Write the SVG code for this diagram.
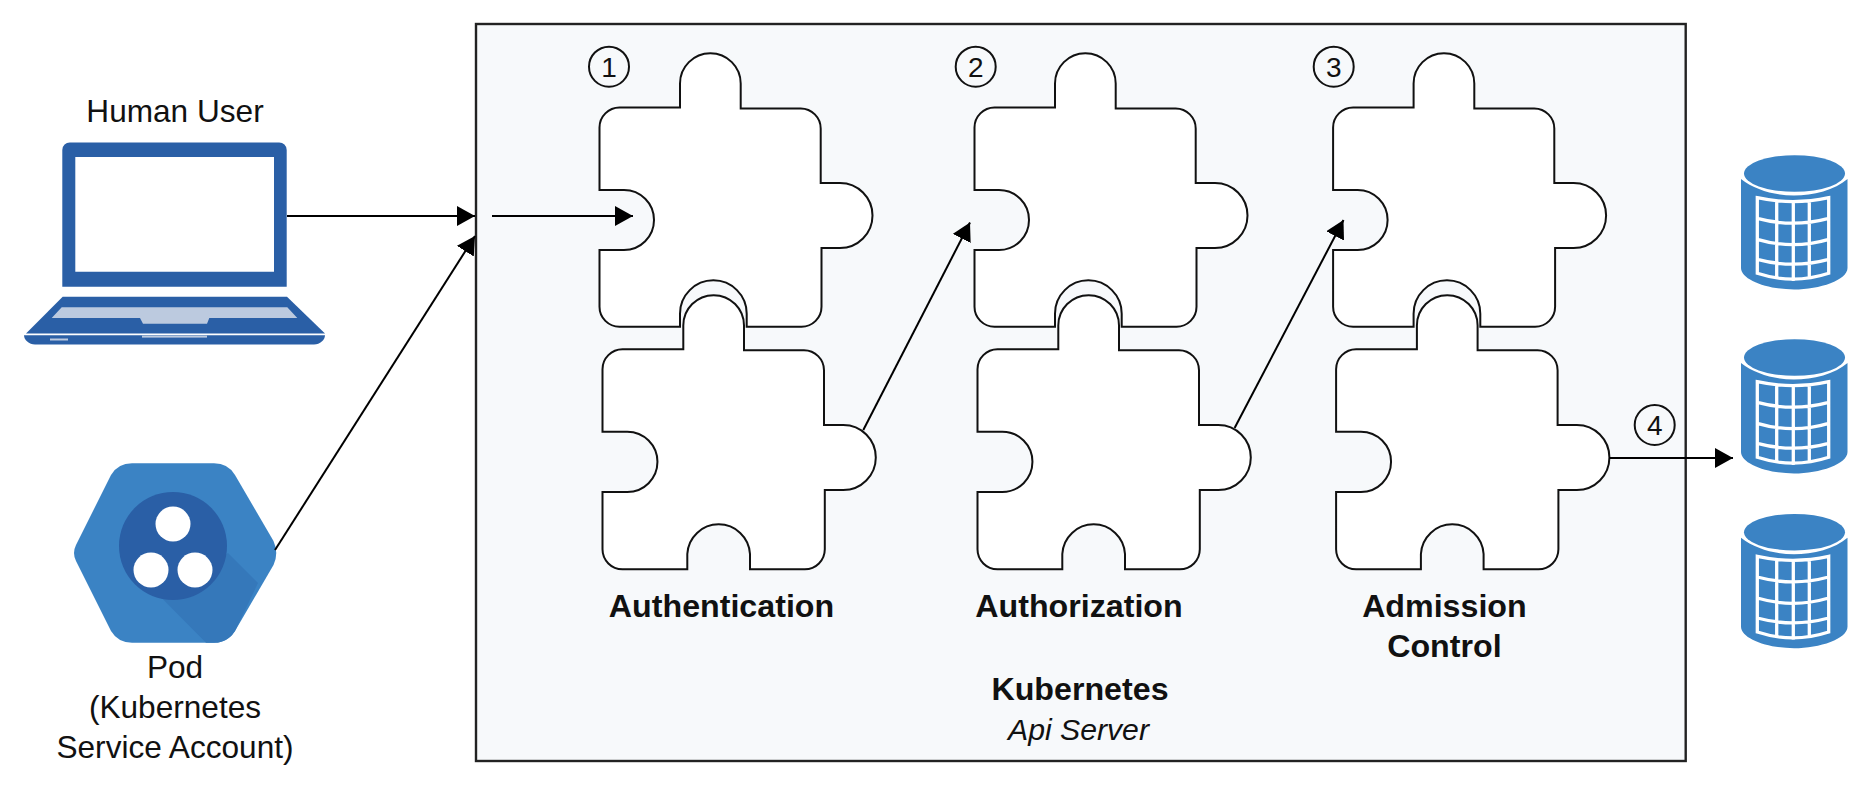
<svg xmlns="http://www.w3.org/2000/svg" width="1871" height="786" viewBox="0 0 1871 786">
<style>
text{font-family:"Liberation Sans",Arial,sans-serif;fill:#111;text-anchor:middle}
.t{font-size:31.6px}
.b{font-size:32.2px;font-weight:bold}
.i{font-size:30.2px;font-style:italic}
.d{font-size:28px}
.p{fill:#fff;stroke:#111;stroke-width:2}
.c{fill:none;stroke:#111;stroke-width:2}
.a{fill:none;stroke:#000;stroke-width:2;marker-end:url(#h)}
.blue{fill:#3b83c4}
.dark{fill:#2a5fa6}
.gl{fill:none;stroke:#fff;stroke-width:3.3}
</style>
<defs>
<marker id="h" markerUnits="userSpaceOnUse" markerWidth="18" markerHeight="20" viewBox="0 0 18 20" refX="18" refY="10" orient="auto"><path d="M0 0L18 10L0 20Z" fill="#000"/></marker>
<path id="upper" d="M619.5 107.5H680V83.6A30.3 30.3 0 0 1 740.7 83.6V108.5H800.7A20 20 0 0 1 820.7 128.5V183H840A32.5 32.5 0 0 1 840 248H821.5V306.7A20 20 0 0 1 801.5 326.7H746.7V313.7A33.3 33.3 0 0 0 680 313.7V326.7H619.5A20 20 0 0 1 599.5 306.7V250H624A30 30 0 0 0 624 190H599.5V127.5A20 20 0 0 1 619.5 107.5Z"/>
<path id="lower" d="M622.5 349.3H683.3V325.5A30.3 30.3 0 0 1 744 325.5V350.3H804A20 20 0 0 1 824 370.3V425H843.3A32.5 32.5 0 0 1 843.3 490H824.8V549.3A20 20 0 0 1 804.8 569.3H750V554A31.4 31.4 0 0 0 687.3 554V569.3H622.5A20 20 0 0 1 602.5 549.3V492H627.3A30 30 0 0 0 627.3 431.7H602.5V369.3A20 20 0 0 1 622.5 349.3Z"/>
<g id="db">
<ellipse class="blue" cx="1794.5" cy="173.5" rx="50.5" ry="18.3"/>
<path class="blue" d="M1741 179C1755 190 1775 195.5 1794 195.5S1835 190 1847.5 179V268C1847.5 280 1820 289.5 1794 289.5S1741 280 1741 268Z"/>
<path class="gl" d="M1757.3 197.7Q1793 205.5 1828.7 197.7V273.3Q1793 285 1757.3 273.3ZM1757.3 218.3Q1793 228 1828.7 218.3M1757.3 239.3Q1793 250 1828.7 239.3M1757.3 259.3Q1793 269 1828.7 259.3M1776.7 200V279M1793.3 201V281M1809.3 200V279"/>
</g>
</defs>

<g id="api-server">
<rect x="476" y="24" width="1209.7" height="737" fill="#f7f9fb" stroke="#222" stroke-width="2.4"/>
<text class="b" x="1080" y="700">Kubernetes</text>
<text class="i" x="1078.5" y="740">Api Server</text>
</g>

<g id="human-user">
<text class="t" x="175" y="121.7">Human User</text>
<path fill="#2a5fa6" fill-rule="evenodd" d="M70 142.5H279A7.5 7.5 0 0 1 286.7 150V286.7H62.3V150A7.5 7.5 0 0 1 70 142.5ZM75.3 157V271.7H274V157Z"/>
<path class="dark" d="M62.7 296.7H287L325 333.5H26Z"/>
<path fill="#bccadf" d="M61.7 307.3H287.3L297.3 318H209.3L207 323.7H143L140 318H51.7Z"/>
<path class="dark" d="M24 335.3H325C325 340 320 344.5 314 344.5H35C29 344.5 24 340 24 335.3Z"/>
<rect x="142" y="335.6" width="65" height="2" fill="#bccadf"/>
<rect x="50" y="338.5" width="18" height="2" fill="#bccadf"/>
</g>

<g id="pod">
<path class="blue" d="M76 545L111 475Q118 463.3 132 463.3H214Q228 463.3 235 475L273.5 541Q279 553 273.5 565L235 631Q228 642.7 214 642.7H132Q118 642.7 111 631L76 561Q72 553 76 545Z"/>
<path fill="#3578ba" d="M161.7 598L228 553L258 583L235 631Q230 640 218 642.7H206Z"/>
<circle class="dark" cx="173" cy="546" r="54"/>
<circle cx="173" cy="524" r="17.5" fill="#fff"/>
<circle cx="151" cy="570" r="17.5" fill="#fff"/>
<circle cx="195" cy="570" r="17.5" fill="#fff"/>
<text class="t" x="175" y="678">Pod</text>
<text class="t" x="175" y="718">(Kubernetes</text>
<text class="t" x="175" y="758">Service Account)</text>
</g>

<g id="authentication">
<use href="#upper" class="p"/>
<use href="#lower" class="p"/>
<circle class="c" cx="609" cy="66.7" r="20"/>
<text class="d" x="609" y="76.5">1</text>
<text class="b" x="721.5" y="616.7">Authentication</text>
</g>
<g id="authorization">
<use href="#upper" class="p" x="375"/>
<use href="#lower" class="p" x="375"/>
<circle class="c" cx="975.7" cy="66.7" r="20"/>
<text class="d" x="975.7" y="76.5">2</text>
<text class="b" x="1079" y="616.7">Authorization</text>
</g>
<g id="admission-control">
<use href="#upper" class="p" x="733.6"/>
<use href="#lower" class="p" x="733.6"/>
<circle class="c" cx="1333.7" cy="66.7" r="20"/>
<text class="d" x="1333.7" y="76.5">3</text>
<text class="b" x="1444.4" y="616.7">Admission</text>
<text class="b" x="1444.4" y="656.7">Control</text>
</g>

<g id="step-4">
<circle class="c" cx="1654.7" cy="425" r="20"/>
<text class="d" x="1654.7" y="435">4</text>
</g>

<g id="datastore-1"><use href="#db"/></g>
<g id="datastore-2"><use href="#db" y="184"/></g>
<g id="datastore-3"><use href="#db" y="358.7"/></g>

<g id="connectors">
<line class="a" x1="287" y1="216" x2="475" y2="216"/>
<line class="a" x1="275" y1="550" x2="475" y2="236"/>
<line class="a" x1="492" y1="216" x2="633" y2="216"/>
<line class="a" x1="863.3" y1="430" x2="970" y2="222.5"/>
<line class="a" x1="1234.6" y1="428" x2="1343.5" y2="220"/>
<line class="a" x1="1609" y1="458" x2="1733" y2="458"/>
</g>
</svg>
